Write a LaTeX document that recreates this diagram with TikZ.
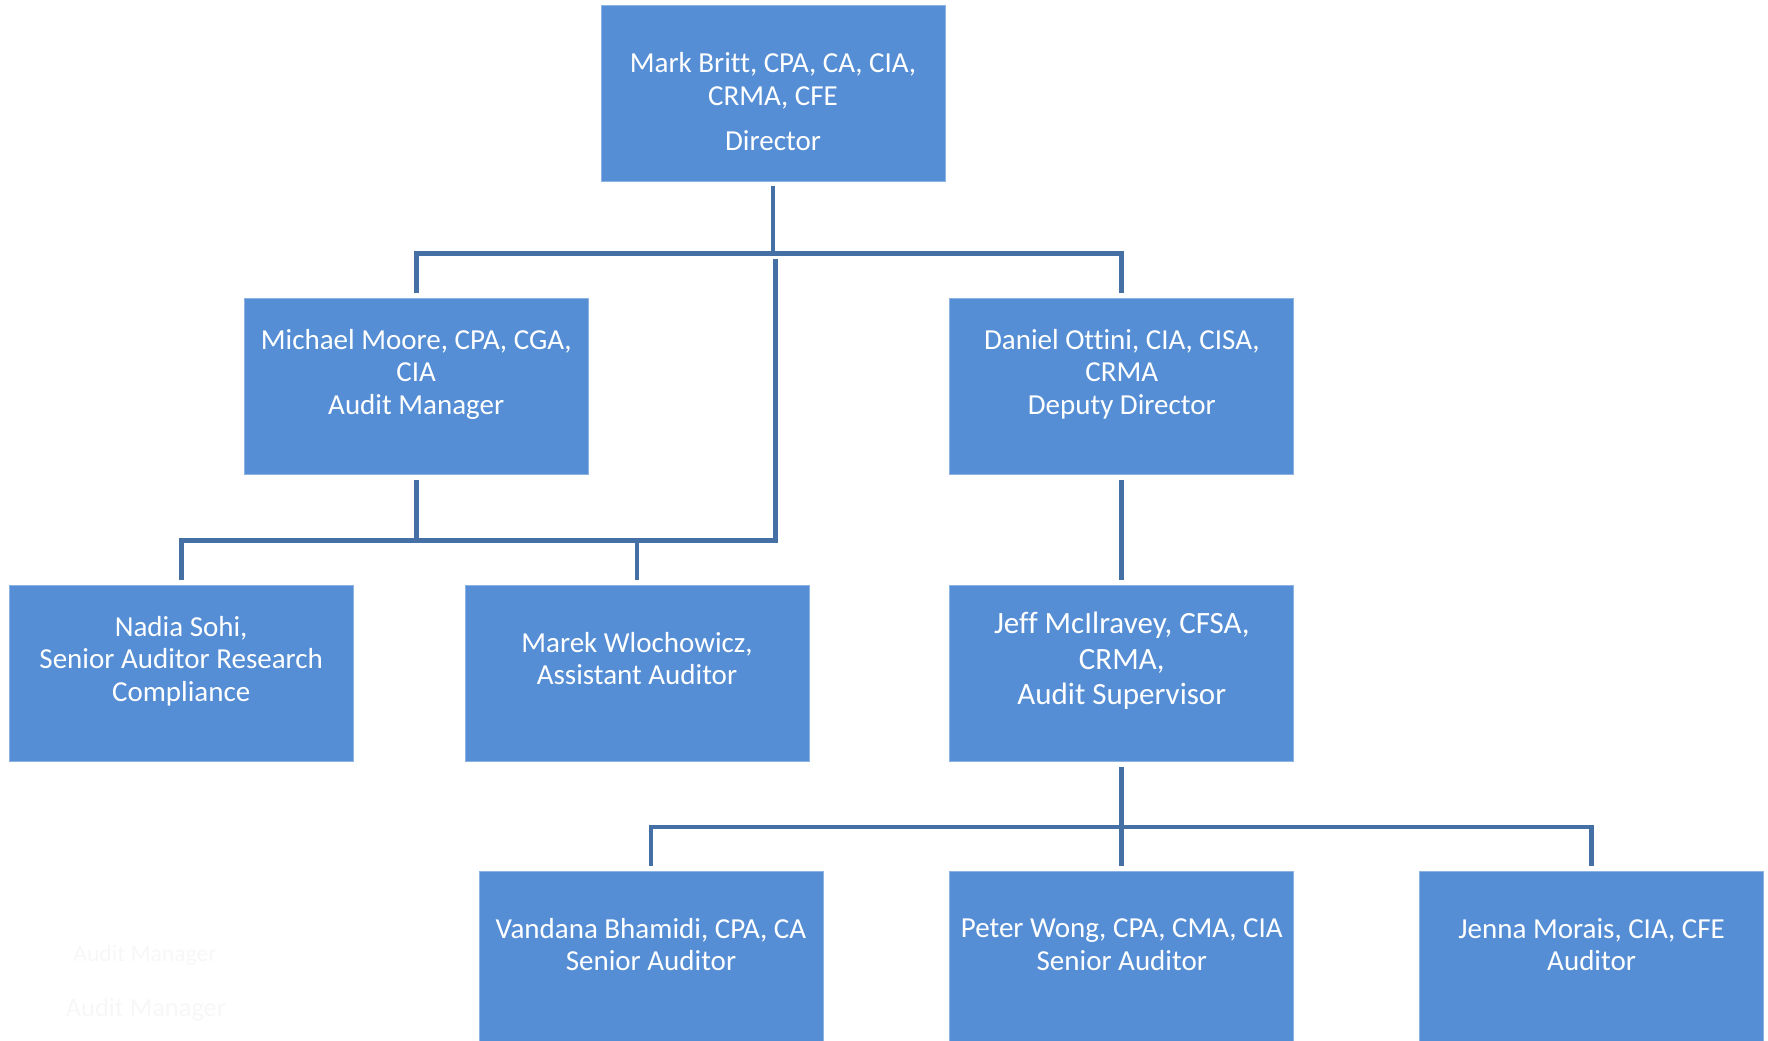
\documentclass[tikz,border=0pt]{standalone}
\usepackage{fontspec}
\setmainfont{Carlito}[Ligatures={NoCommon}]
\usepackage{xcolor}
\usepackage{tikz}
\usetikzlibrary{positioning}

\definecolor{boxblue}{HTML}{558ED5}
\definecolor{boxedge}{HTML}{8DB3E2}
\definecolor{lineblue}{HTML}{4470A6}

\begin{document}
\begin{tikzpicture}[
  every node/.style={align=center, inner sep=2pt},
  staff/.style={rectangle, fill=boxblue, draw=boxedge, line width=0.4pt, text=white, minimum width=172pt, minimum height=88pt, text depth=15pt, font=\fontsize{14.5}{16.3}\selectfont},
  head/.style={text depth=0pt, text height=57pt},
  bigtext/.style={font=\fontsize{15.5}{17.8}\selectfont},
  ghost/.style={text=black!3},
  connector/.style={draw=lineblue, line width=2.4pt}
]
\useasboundingbox (0,0) rectangle (884pt,-520pt);
\clip (0,0) rectangle (884pt,-520pt);

% Nodes
\node[staff, head] (director) at (386.5pt,-46.5pt) {Mark Britt, CPA, CA, CIA,\\ CRMA, CFE\\[6pt] Director};

\node[staff, below left=58.5pt and 6pt of director] (manager) {Michael Moore, CPA, CGA,\\ CIA\\ Audit Manager};
\node[staff, below right=58.5pt and 2pt of director] (deputy) {Daniel Ottini, CIA, CISA,\\ CRMA\\ Deputy Director};

\node[staff, below=55pt of manager, xshift=-117.5pt] (nadia) {Nadia Sohi,\\ Senior Auditor Research\\ Compliance};
\node[staff, right=55.5pt of nadia] (marek) {Marek Wlochowicz,\\ Assistant Auditor};
\node[staff, bigtext, below=55pt of deputy] (jeff) {Jeff McIlravey, CFSA,\\ CRMA,\\ Audit Supervisor};

\node[staff, below=54.5pt of jeff] (peter) {Peter Wong, CPA, CMA, CIA\\ Senior Auditor};
\node[staff, left=63pt of peter] (vandana) {Vandana Bhamidi, CPA, CA\\ Senior Auditor};
\node[staff, right=62.5pt of peter] (jenna) {Jenna Morais, CIA, CFE\\ Auditor};

\node[ghost, font=\fontsize{11.8}{14}\selectfont] (ghosta) at (72.5pt,-477.5pt) {Audit Manager};
\node[ghost, font=\fontsize{13.2}{15}\selectfont] (ghostb) at (73pt,-505pt) {Audit Manager};

% Lines
\coordinate[below=36pt of director.south] (topbus);
\coordinate[below=32.5pt of manager.south] (leftbus);
\coordinate[below=32.5pt of jeff.south] (lowbus);

\draw[connector] ([yshift=-2.5pt]director.south) -- (topbus);
\draw[connector] ([yshift=2.5pt]manager.north) |- (topbus) -| ([yshift=2.5pt]deputy.north);
\draw[connector] ([xshift=1.2pt,yshift=-3pt]topbus) |- (leftbus -| marek.north) -- ([yshift=2.5pt]marek.north);

\draw[connector] ([yshift=-2.5pt]manager.south) -- (leftbus);
\draw[connector] ([yshift=2.5pt]nadia.north) |- (leftbus) -| ([yshift=2.5pt]marek.north);

\draw[connector] ([yshift=-2.5pt]deputy.south) -- ([yshift=2.5pt]jeff.north);

\draw[connector] ([yshift=-2.5pt]jeff.south) -- ([yshift=2.5pt]peter.north);
\draw[connector] ([yshift=2.5pt]vandana.north) |- (lowbus) -| ([yshift=2.5pt]jenna.north);

\end{tikzpicture}
\end{document}
